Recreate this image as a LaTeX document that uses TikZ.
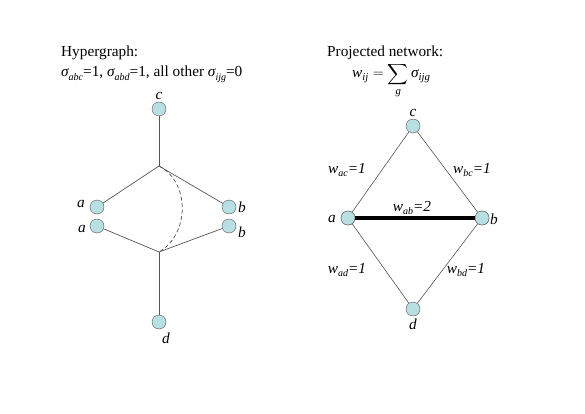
\documentclass[tikz,border=0pt]{standalone}
\usepackage{fontspec}
\setmainfont{Liberation Serif}
\usepackage{amsmath}
\usetikzlibrary{positioning}

\definecolor{vertexfill}{RGB}{184,223,226}
\definecolor{edgegray}{RGB}{85,85,85}

% small italic index set low, as in the slide
\newcommand{\lowidx}[1]{\raisebox{-0.45ex}{\fontsize{10}{10}\selectfont\itshape #1}}

\tikzset{
  vertex/.style={circle, draw=edgegray, fill=vertexfill, minimum size=14pt, inner sep=0pt},
  vlabel/.style={font=\fontsize{15.3}{18}\selectfont\itshape, inner sep=0pt},
  wlabel/.style={font=\fontsize{15.3}{18}\selectfont\itshape, inner sep=0pt},
  heading/.style={font=\fontsize{15.3}{18}\selectfont, anchor=base west, inner sep=0pt},
  hedge/.style={draw=edgegray, line width=0.7pt},
  plain/.style={draw=edgegray, line width=0.6pt}
}

\begin{document}
\begin{tikzpicture}[x=1pt, y=-1pt]
  \useasboundingbox (0,0) rectangle (585,414);

  % Headings
  \node[heading] (hyptitle) at (61,57) {Hypergraph:};
  \node[heading] (hyptext) at (61,77) {{\itshape σ}\lowidx{abc}=1, {\itshape σ}\lowidx{abd}=1, all other {\itshape σ}\lowidx{ijg}=0};
  \node[heading] (projtitle) at (327,57) {Projected network:};
  \node[heading] (projeq) at (352,78) {$\displaystyle \textit{w}_{\textit{ij}}=\sum_{\textit{g}}\textit{σ}_{\textit{ijg}}$};

  % Hypergraph vertices
  \node[vertex] (hc) at (159,109) {};
  \node[vertex] (ha1) at (97,207) {};
  \node[vertex] (ha2) at (97,226) {};
  \node[vertex] (hb1) at (229,207) {};
  \node[vertex] (hb2) at (229,226) {};
  \node[vertex] (hd) at (159,322) {};
  \coordinate (hjtop) at (159,166);
  \coordinate (hjbot) at (159,252);

  % Hyperedges
  \foreach \v in {hc, ha1, hb1} {
    \draw[hedge] (hjtop) -- (\v);
  }
  \foreach \v in {hd, ha2, hb2} {
    \draw[hedge] (hjbot) -- (\v);
  }
  \draw[hedge, dash pattern=on 4pt off 2.5pt] (hjtop) .. controls (190,182) and (190,234) .. (hjbot);

  % Hypergraph labels
  \foreach \x/\y/\lab in {159/96/c, 81/204/a, 82/229/a, 242/207/b, 242/232/b, 166/338/d} {
    \node[vlabel] at (\x,\y) {\lab};
  }

  % Projected network vertices
  \node[vertex] (pc) at (413,126) {};
  \node[vertex] (pa) at (348,218) {};
  \node[vertex] (pb) at (482,218) {};
  \node[vertex] (pd) at (413,309) {};

  % Projected edges
  \draw[plain] (pa) -- (pc) -- (pb) -- (pd) -- (pa);
  \draw[line width=4pt, black] (pa) -- (pb);
  \node[vertex] at (pa) {};
  \node[vertex] at (pb) {};

  % Projected labels
  \foreach \x/\y/\lab in {413/113/c, 332/219/a, 494/219/b, 413/324/d} {
    \node[vlabel] at (\x,\y) {\lab};
  }
  \node[wlabel] (wac) at (347,170) {w\lowidx{ac}=1};
  \node[wlabel] (wbc) at (472,170) {w\lowidx{bc}=1};
  \node[wlabel] (wab) at (412,208) {w\lowidx{ab}=2};
  \node[wlabel] (wad) at (347,270) {w\lowidx{ad}=1};
  \node[wlabel] (wbd) at (466,270) {w\lowidx{bd}=1};
\end{tikzpicture}
\end{document}
